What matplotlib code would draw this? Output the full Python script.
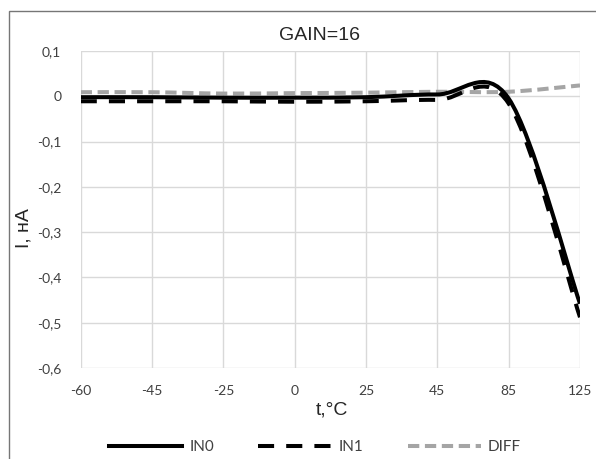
import numpy as np
import matplotlib.pyplot as plt
from matplotlib.path import Path
from matplotlib.patches import PathPatch, Rectangle
from matplotlib.lines import Line2D

# category axis (Excel line chart, evenly spaced)
temps = ["-60", "-45", "-25", "0", "25", "45", "85", "125"]
in0 = [-0.002, -0.002, -0.003, -0.003, -0.002, 0.004, -0.005, -0.458]
in1 = [-0.011, -0.011, -0.011, -0.012, -0.011, -0.008, -0.016, -0.488]
diff = [0.009, 0.009, 0.006, 0.007, 0.008, 0.010, 0.010, 0.024]

yticks = [0.1, 0, -0.1, -0.2, -0.3, -0.4, -0.5, -0.6]
ylabels = ["0,1", "0", "-0,1", "-0,2", "-0,3", "-0,4", "-0,5", "-0,6"]


def smooth_path(xs, ys):
    # Excel-style smoothed line: cubic Bezier, Catmull-Rom control points
    pts = np.column_stack([xs, ys]).astype(float)
    n = len(pts)
    verts = [pts[0]]
    codes = [Path.MOVETO]
    for i in range(n - 1):
        p0 = pts[max(i - 1, 0)]
        p1 = pts[i]
        p2 = pts[i + 1]
        p3 = pts[min(i + 2, n - 1)]
        c1 = p1 + (p2 - p0) / 6.0
        c2 = p2 - (p3 - p1) / 6.0
        verts += [c1, c2, p2]
        codes += [Path.CURVE4] * 3
    return Path(verts, codes)


fig = plt.figure(figsize=(5.96, 4.59), dpi=100)
ax = fig.add_axes([80.7 / 596, 1 - 368 / 459, (580 - 80.7) / 596, (368 - 51) / 459])

x = np.arange(len(temps))
styles = [
    (in0, "black", "-", "IN0"),
    (in1, "black", (0, (4, 3)), "IN1"),
    (diff, "#a5a5a5", (0, (2.8, 1.4)), "DIFF"),
]
handles = []
for vals, col, ls, lab in styles[::-1]:
    patch = PathPatch(smooth_path(x, vals), fill=False, edgecolor=col,
                      linewidth=2.9, linestyle=ls, joinstyle="round",
                      capstyle="butt", zorder=3)
    ax.add_patch(patch)
for vals, col, ls, lab in styles:
    handles.append(Line2D([], [], color=col, lw=2.9, linestyle=ls, label=lab))

ax.set_xlim(0, len(temps) - 1)
ax.set_ylim(-0.6, 0.1)
ax.set_xticks(x)
ax.set_xticklabels(temps)
ax.set_yticks(yticks)
ax.set_yticklabels(ylabels)
ax.tick_params(length=0, labelsize=10, colors="#404040")
ax.tick_params(axis="x", pad=12)
ax.tick_params(axis="y", pad=14)
for lbl in ax.get_xticklabels() + ax.get_yticklabels():
    lbl.set_family("Lato")
ax.grid(True, color="#d9d9d9", lw=1.0)
ax.set_axisbelow(True)
for s in ax.spines.values():
    s.set_visible(False)

fig.text(320 / 596, 1 - 35 / 459, "GAIN=16", ha="center", va="center",
         fontsize=14, family="Liberation Sans", color="#262626")
fig.text(332 / 596, 1 - 410 / 459, "t,°C", ha="center", va="center",
         fontsize=14, family="Liberation Sans", color="#262626")
fig.text(24 / 596, 1 - 228 / 459, "I, нА", ha="center", va="center",
         rotation=90, fontsize=14, family="Liberation Sans", color="#262626")

leg = fig.legend(handles=handles, loc="center", ncol=3,
                 bbox_to_anchor=(315 / 596, 1 - 447 / 459), frameon=False,
                 handlelength=4.8, handletextpad=0.45, columnspacing=2.9,
                 prop={"family": "Lato", "size": 11})
for t in leg.get_texts():
    t.set_color("#404040")

# chart border
fig.patches.append(Rectangle((9 / 596, -0.05), 1.0, 1 - 11 / 459 + 0.05,
                             transform=fig.transFigure, fill=False,
                             edgecolor="#767676", lw=1.0))

fig.savefig("out.png", dpi=100)
